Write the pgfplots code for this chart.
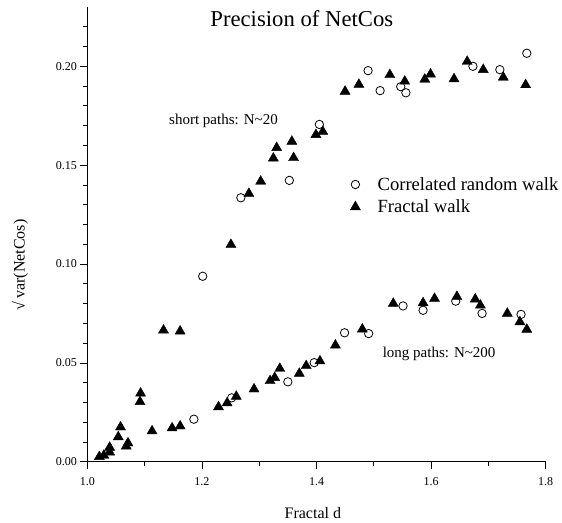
\documentclass[border=0pt]{standalone}
\usepackage{fontspec}
\setmainfont{Liberation Serif}
\usepackage{pgfplots}
\usepackage{pgfplotstable}
\pgfplotsset{compat=1.18}

\pgfplotstableread{
d v
1.2014 0.0938
1.268 0.1335
1.3526 0.1423
1.405 0.1706
1.490 0.1978
1.511 0.1877
1.547 0.1897
1.556 0.1866
1.673 0.2000
1.720 0.1983
1.767 0.2066
1.186 0.0215
1.252 0.0323
1.350 0.0404
1.396 0.0501
1.449 0.0652
1.491 0.0648
1.551 0.0788
1.586 0.0766
1.643 0.0812
1.689 0.0750
1.757 0.0745
}\crw

\pgfplotstableread{
d v
1.021 0.0025
1.029 0.0032
1.039 0.0048
1.039 0.0072
1.054 0.0125
1.058 0.0175
1.068 0.0078
1.071 0.0094
1.092 0.0303
1.093 0.0346
1.113 0.0155
1.148 0.0170
1.162 0.0180
1.133 0.0665
1.162 0.0660
1.229 0.0277
1.244 0.0297
1.260 0.0330
1.291 0.0367
1.319 0.0409
1.327 0.0425
1.336 0.0471
1.370 0.0446
1.382 0.0485
1.406 0.0509
1.433 0.0589
1.480 0.0670
1.534 0.0800
1.586 0.0803
1.606 0.0825
1.645 0.0835
1.677 0.0822
1.686 0.0791
1.733 0.0750
1.755 0.0707
1.767 0.0669
1.2507 0.1098
1.282 0.1356
1.3026 0.1418
1.3247 0.1535
1.3305 0.1588
1.357 0.1620
1.360 0.1537
1.399 0.1654
1.411 0.1670
1.4499 0.1873
1.474 0.1908
1.528 0.1957
1.554 0.1924
1.589 0.1934
1.599 0.1960
1.640 0.1936
1.663 0.2024
1.691 0.1983
1.726 0.1944
1.765 0.1906
}\fw

\begin{document}
\begin{tikzpicture}
\begin{axis}[
  at={(0pt,0pt)}, anchor=south west,
  scale only axis, width=458.4pt, height=454.7pt,
  xmin=1.0, xmax=1.8, ymin=0, ymax=0.23,
  axis lines=left,
  axis line style={-, line width=0.9pt, black},
  xtick={1.0,1.2,1.4,1.6,1.8},
  minor xtick={1.1,1.3,1.5,1.7},
  ytick={0,0.05,0.10,0.15,0.20},
  minor ytick={0.01,0.02,0.03,0.04,0.06,0.07,0.08,0.09,0.11,0.12,0.13,0.14,0.16,0.17,0.18,0.19,0.21,0.22},
  tick align=outside,
  major tick length=7pt, minor tick length=4pt,
  tick style={black, line width=0.7pt},
  tick label style={font=\fontsize{12}{14}\selectfont},
  /pgf/number format/assume math mode=true,
  x tick label style={yshift=-5pt, /pgf/number format/.cd, fixed, fixed zerofill, precision=1},
  y tick label style={/pgf/number format/.cd, fixed, fixed zerofill, precision=2},
  title={Precision of NetCos},
  title style={at={(axis description cs:0.468,0.962)}, anchor=center, font=\fontsize{22.7}{26}\selectfont},
  xlabel={Fractal d},
  xlabel style={at={(axis description cs:0.492,-0.113)}, anchor=center, font=\fontsize{16}{19}\selectfont},
  ylabel={√\,var(NetCos)},
  ylabel style={at={(axis description cs:-0.147,0.433)}, anchor=center, font=\fontsize{16}{19}\selectfont},
  legend cell align=left,
  legend image code/.code={\draw[#1] plot coordinates {(0pt,0pt)}; \path (-6pt,0pt) (20pt,0pt);},
  legend style={draw=none, fill=none, at={(axis description cs:0.5709,0.585)}, anchor=west, inner sep=0pt, row sep=4pt, font=\fontsize{18.6}{21}\selectfont},
]
\addplot[only marks, mark=o, mark size=4.2pt, mark options={line width=0.8pt, draw=black}] table[x=d, y=v] {\crw};
\addlegendentry{Correlated random walk}
\addplot[only marks, mark=triangle*, mark size=5.8pt, mark options={fill=black, draw=black}] table[x=d, y=v] {\fw};
\addlegendentry{Fractal walk}
\node[font=\fontsize{15}{18}\selectfont] at (axis cs:1.2377,0.1726) {short paths: N\textasciitilde 20};
\node[font=\fontsize{15}{18}\selectfont] at (axis cs:1.614,0.0547) {long paths: N\textasciitilde 200};
\end{axis}
\pgfresetboundingbox
\path[use as bounding box] (-87.3pt,-60.3pt) rectangle (474.7pt,461.7pt);
\end{tikzpicture}
\end{document}
